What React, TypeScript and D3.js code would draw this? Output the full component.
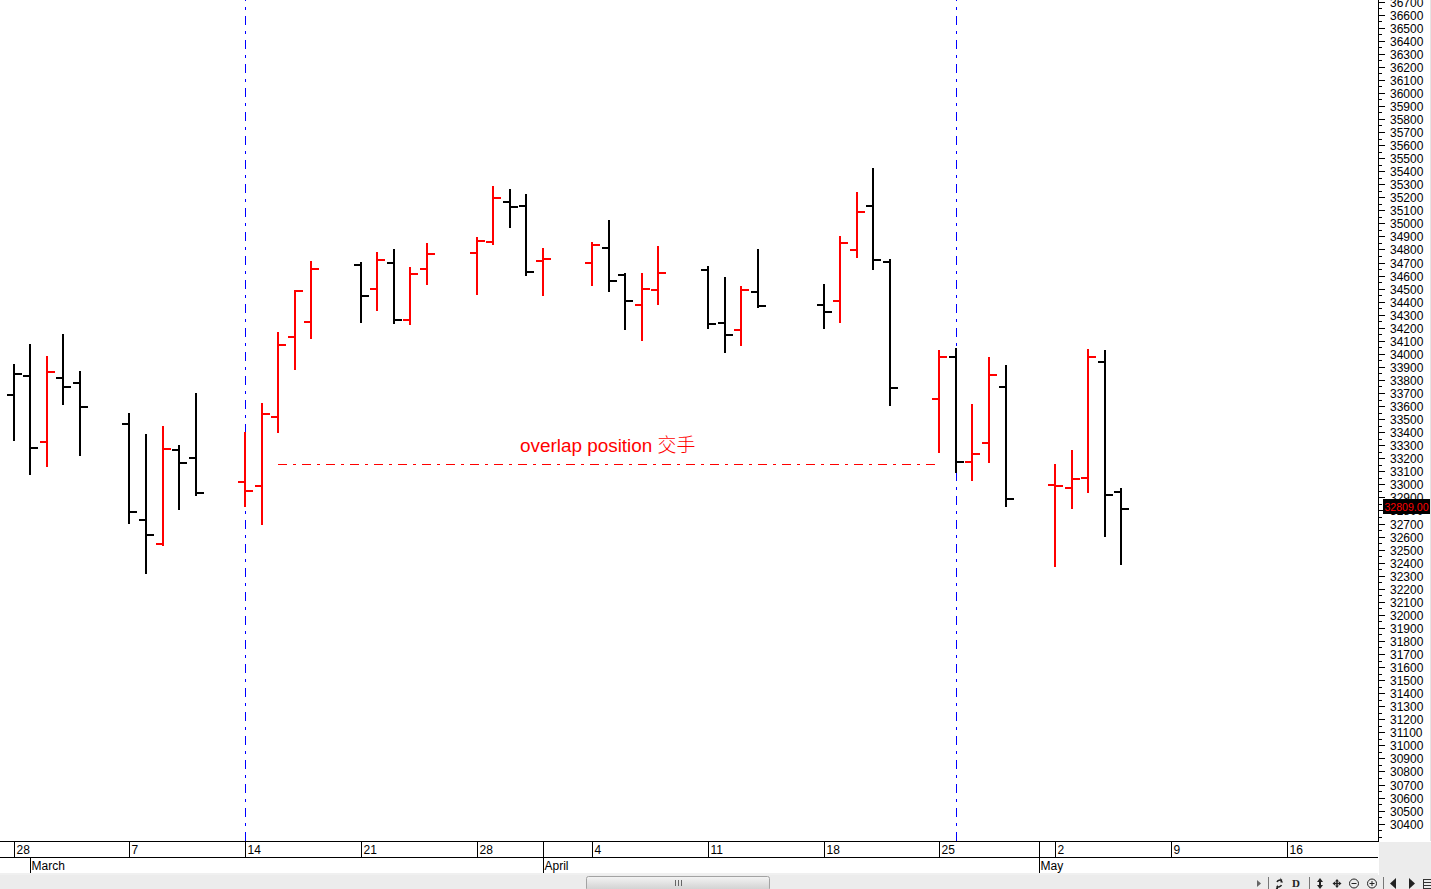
import React, { useEffect, useRef } from 'react';
import * as d3 from 'd3';

const WIDTH = 1431;
const HEIGHT = 889;

const dates = [
  '2022-02-28', '2022-03-01', '2022-03-02', '2022-03-03', '2022-03-04',
  '2022-03-07', '2022-03-08', '2022-03-09', '2022-03-10', '2022-03-11',
  '2022-03-14', '2022-03-15', '2022-03-16', '2022-03-17', '2022-03-18',
  '2022-03-21', '2022-03-22', '2022-03-23', '2022-03-24', '2022-03-25',
  '2022-03-28', '2022-03-29', '2022-03-30', '2022-03-31', '2022-04-01',
  '2022-04-04', '2022-04-05', '2022-04-06', '2022-04-07', '2022-04-08',
  '2022-04-11', '2022-04-12', '2022-04-13', '2022-04-14',
  '2022-04-18', '2022-04-19', '2022-04-20', '2022-04-21', '2022-04-22',
  '2022-04-25', '2022-04-26', '2022-04-27', '2022-04-28', '2022-04-29',
  '2022-05-02', '2022-05-03', '2022-05-04', '2022-05-05', '2022-05-06',
];
const opens = [
  33684, 33832, 33324, 33817, 33778,
  33464, 32729, 32545, 33265, 33204,
  33020, 32989, 33518, 34131, 34246,
  34683, 34499, 34698, 34261, 34652,
  34775, 34859, 35165, 35135, 34713,
  34698, 34813, 34606, 34376, 34491,
  34644, 34238, 34185, 34476,
  34376, 34407, 34798, 35135, 34706,
  33656, 33978, 33173, 33319, 33748,
  32994, 32974, 33050, 33939, 32943,
];
const highs = [
  33922, 34075, 33983, 34152, 33868,
  33544, 33385, 33447, 33299, 33699,
  33398, 33623, 34167, 34489, 34711,
  34701, 34780, 34803, 34665, 34849,
  34895, 35286, 35263, 35224, 34811,
  34857, 35025, 34617, 34619, 34826,
  34673, 34588, 34519, 34803,
  34535, 34903, 35240, 35424, 34726,
  34029, 34044, 33615, 33975, 33914,
  33155, 33263, 34037, 34029, 32971,
];
const lows = [
  33334, 33073, 33135, 33607, 33219,
  32698, 32315, 32529, 32805, 32912,
  32828, 32690, 33395, 33878, 34113,
  34238, 34330, 34230, 34223, 34529,
  34453, 34836, 34966, 34598, 34445,
  34522, 34476, 34185, 34100, 34376,
  34192, 34008, 34062, 34353,
  34192, 34238, 34736, 34644, 33602,
  33242, 33089, 33027, 33165, 32828,
  32368, 32813, 32935, 32598, 32384,
];
const closes = [
  33847, 33280, 33863, 33748, 33595,
  32790, 32614, 33273, 33165, 32935,
  32951, 33541, 34070, 34481, 34650,
  34443, 34721, 34261, 34614, 34767,
  34867, 35196, 35127, 34629, 34729,
  34836, 34560, 34407, 34499, 34621,
  34230, 34146, 34491, 34368,
  34322, 34851, 35089, 34721, 33740,
  33978, 33173, 33234, 33840, 32889,
  32989, 33043, 33978, 32920, 32809,
];

const weekTicks = [
  '2022-02-28', '2022-03-07', '2022-03-14', '2022-03-21', '2022-03-28', '2022-04-04',
  '2022-04-11', '2022-04-18', '2022-04-25', '2022-05-02', '2022-05-09', '2022-05-16',
];
const monthTicks = ['2022-03-01', '2022-04-01', '2022-05-01'];
const monthNames = ['March', 'April', 'May'];
const cycleDates = ['2022-03-14', '2022-04-26'];
const overlapLevel = 33155;
const overlapStart = '2022-03-16';
const overlapEnd = '2022-04-24';
const lastPrice = 32809;

const RED = '#ff0000';
const BLUE = '#0000ff';
const FONT = '"Liberation Sans", Arial, sans-serif';

const parse = (s: string) => new Date(s + 'T00:00:00Z');

const App = () => {
  const svgRef = useRef<SVGSVGElement | null>(null);

  useEffect(() => {
    const svg = d3.select(svgRef.current);
    svg.selectAll('*').remove();

    const plotRight = 1378;
    const plotBottom = 841;

    const dayPx = 16.53;
    const xScale = d3.scaleUtc()
      .domain([parse('2022-02-28'), parse('2022-05-16')])
      .range([13.75, 13.75 + dayPx * 77]);
    const x = (s: string) => Math.round(xScale(parse(s)));

    const y = d3.scaleLinear().domain([30300, 36700]).rangeRound([836.7, 1.5]);

    svg.append('rect').attr('width', WIDTH).attr('height', HEIGHT).attr('fill', '#fff');

    // vertical cycle lines
    svg.append('g').selectAll('line')
      .data(cycleDates)
      .enter()
      .append('line')
      .attr('x1', d => x(d) + 0.5)
      .attr('x2', d => x(d) + 0.5)
      .attr('y1', 0)
      .attr('y2', plotBottom)
      .attr('stroke', BLUE)
      .attr('stroke-width', 1)
      .attr('shape-rendering', 'crispEdges')
      .attr('stroke-dasharray', '9 6 3 6')
      .attr('stroke-dashoffset', 8.3);

    // OHLC bars
    const bars = svg.append('g')
      .selectAll('g')
      .data(dates.map((d, i) => i))
      .enter()
      .append('g')
      .attr('fill', i => (i > 0 && closes[i] >= closes[i - 1] ? RED : '#000'));

    bars.append('rect')
      .attr('x', i => x(dates[i]) - 1)
      .attr('y', i => y(highs[i]))
      .attr('width', 2)
      .attr('height', i => y(lows[i]) - y(highs[i]));
    bars.append('rect')
      .attr('x', i => x(dates[i]) - 7)
      .attr('y', i => y(opens[i]) - 1)
      .attr('width', 6)
      .attr('height', 2);
    bars.append('rect')
      .attr('x', i => x(dates[i]) + 1)
      .attr('y', i => y(closes[i]) - 1)
      .attr('width', 7)
      .attr('height', 2);

    // overlap annotation
    svg.append('line')
      .attr('x1', x(overlapStart))
      .attr('x2', x(overlapEnd) + 14)
      .attr('y1', y(overlapLevel) + 0.5)
      .attr('y2', y(overlapLevel) + 0.5)
      .attr('stroke', RED)
      .attr('stroke-width', 1)
      .attr('shape-rendering', 'crispEdges')
      .attr('stroke-dasharray', '9 6 3 6');

    const note = svg.append('text')
      .attr('x', 520)
      .attr('y', 452)
      .attr('fill', RED)
      .style('font-family', FONT)
      .style('font-size', '18.9px');
    note.append('tspan').text('overlap position ');
    note.append('tspan').style('font-family', '"Noto Sans CJK TC"').style('font-weight', 300).text('交手');

    // price axis
    const yTicks = d3.range(30400, 36701, 100);
    const yMinor = d3.range(30350, 36700, 100).concat([30300]);
    const axisMajor = d3.axisRight(y).tickValues(yTicks).tickSize(7).tickPadding(5);
    const axisMinor = d3.axisRight(y).tickValues(yMinor).tickSize(4).tickFormat(() => '');

    const gMinor = svg.append('g').attr('transform', `translate(${plotRight},0)`).call(axisMinor);
    const gMajor = svg.append('g').attr('transform', `translate(${plotRight},0)`).call(axisMajor.tickFormat(d3.format('d')));
    gMinor.select('.domain').remove();
    gMajor.select('.domain').remove();
    gMajor.selectAll('text')
      .attr('fill', '#000')
      .attr('dy', '0.4em')
      .style('font-family', FONT)
      .style('font-size', '12px');

    svg.append('rect').attr('x', plotRight).attr('y', 0).attr('width', 1).attr('height', plotBottom + 1).attr('fill', '#000');
    svg.append('rect').attr('x', 1430).attr('y', 0).attr('width', 1).attr('height', plotBottom).attr('fill', '#e4e4e4');

    // last price tag
    svg.append('rect').attr('x', 1383).attr('y', y(lastPrice) - 10).attr('width', 47).attr('height', 15).attr('fill', '#000');
    svg.append('text')
      .attr('x', 1384.5)
      .attr('y', y(lastPrice) + 2)
      .attr('fill', RED)
      .attr('textLength', 44)
      .attr('lengthAdjust', 'spacingAndGlyphs')
      .style('font-family', FONT)
      .style('font-size', '11.5px')
      .text(d3.format('.2f')(lastPrice));

    // time axis
    svg.append('rect').attr('x', 0).attr('y', plotBottom).attr('width', plotRight).attr('height', 1).attr('fill', '#000');
    svg.append('rect').attr('x', 0).attr('y', 857).attr('width', plotRight).attr('height', 1).attr('fill', '#000');

    const weeks = svg.append('g').selectAll('g').data(weekTicks).enter().append('g');
    weeks.append('rect')
      .attr('x', d => x(d))
      .attr('y', plotBottom)
      .attr('width', 1)
      .attr('height', 16)
      .attr('fill', '#000');
    weeks.append('text')
      .attr('x', d => x(d) + 2.5)
      .attr('y', 854)
      .attr('fill', '#000')
      .style('font-family', FONT)
      .style('font-size', '12px')
      .text(d => d3.utcFormat('%-d')(parse(d)));

    const months = svg.append('g').selectAll('g').data(monthTicks).enter().append('g');
    months.append('rect')
      .attr('x', d => x(d))
      .attr('y', (d, i) => (i === 0 ? 857 : plotBottom))
      .attr('width', 1)
      .attr('height', (d, i) => (i === 0 ? 16 : 32))
      .attr('fill', '#000');
    months.append('text')
      .attr('x', d => x(d) + 1.5)
      .attr('y', 870)
      .attr('fill', '#000')
      .style('font-family', FONT)
      .style('font-size', '12px')
      .text((d, i) => monthNames[i]);

    // window chrome under the chart
    svg.append('rect').attr('x', plotRight + 1).attr('y', plotBottom + 1).attr('width', WIDTH - plotRight - 1).attr('height', HEIGHT - plotBottom).attr('fill', '#ececec');
    svg.append('rect').attr('x', 0).attr('y', 873).attr('width', plotRight).attr('height', 2).attr('fill', '#f0f0f0');
    svg.append('rect').attr('x', 0).attr('y', 875).attr('width', WIDTH).attr('height', 14).attr('fill', '#ececec');

    const defs = svg.append('defs');
    const grad = defs.append('linearGradient').attr('id', 'thumb').attr('x1', 0).attr('x2', 0).attr('y1', 0).attr('y2', 1);
    grad.append('stop').attr('offset', '0%').attr('stop-color', '#f4f4f4');
    grad.append('stop').attr('offset', '100%').attr('stop-color', '#cfcfcf');
    svg.append('rect')
      .attr('x', 586.5).attr('y', 876.5).attr('width', 183).attr('height', 14).attr('rx', 2)
      .attr('fill', 'url(#thumb)').attr('stroke', '#a3a3a3');
    [675, 678, 681].forEach(px => {
      svg.append('rect').attr('x', px).attr('y', 880).attr('width', 1).attr('height', 6).attr('fill', '#666');
    });

    // toolbar glyphs
    const tool = svg.append('g').attr('fill', '#222').attr('stroke', 'none');
    [1268, 1309, 1383].forEach(px => {
      tool.append('rect').attr('x', px).attr('y', 877).attr('width', 1).attr('height', 12).attr('fill', '#777');
    });
    tool.append('path').attr('d', 'M1257 880l4 3.5-4 3.5z').attr('fill', '#666');
    tool.append('path')
      .attr('d', 'M1282 880.5a3.5 3 0 0 0-5 1.5M1276.5 886.5a3.5 3 0 0 0 5-1.5')
      .attr('fill', 'none').attr('stroke', '#222').attr('stroke-width', 1.5);
    tool.append('path').attr('d', 'M1280.5 877.5v5h2.5zM1278 884.5v5h-2.5z');
    tool.append('text').attr('x', 1292).attr('y', 887).style('font-family', '"Liberation Serif", serif').style('font-size', '11px').style('font-weight', 700).text('D');
    tool.append('path').attr('d', 'M1320 878l3 4h-2v3h2l-3 4-3-4h2v-3h-2z');
    tool.append('path').attr('d', 'M1337 879l2 2.5h-1.3v1.3h1.3v-1.3l2.5 2-2.5 2v-1.3h-1.3v1.3h1.3l-2 2.5-2-2.5h1.3v-1.3h-1.3v1.3l-2.5-2 2.5-2v1.3h1.3v-1.3h-1.3z');
    [1354, 1372].forEach((cx, i) => {
      tool.append('circle').attr('cx', cx).attr('cy', 883.5).attr('r', 4.5).attr('fill', 'none').attr('stroke', '#222');
      tool.append('rect').attr('x', cx - 2.5).attr('y', 883).attr('width', 5).attr('height', 1);
      if (i === 1) tool.append('rect').attr('x', cx - 0.5).attr('y', 881).attr('width', 1).attr('height', 5);
    });
    tool.append('path').attr('d', 'M1396 878v11l-6-5.5z');
    tool.append('path').attr('d', 'M1409 878v11l6-5.5z');
    tool.append('path').attr('d', 'M1423.5 879.5h7.5M1423.5 882.5h7.5M1423.5 885.5h7.5M1423.5 888.5h7.5M1423.5 879v10').attr('stroke', '#333').attr('fill', 'none');
  }, []);

  return (
    <svg
      ref={svgRef}
      width={WIDTH}
      height={HEIGHT}
      style={{ position: 'absolute', left: 0, top: 0, display: 'block' }}
    />
  );
};

export default App;
